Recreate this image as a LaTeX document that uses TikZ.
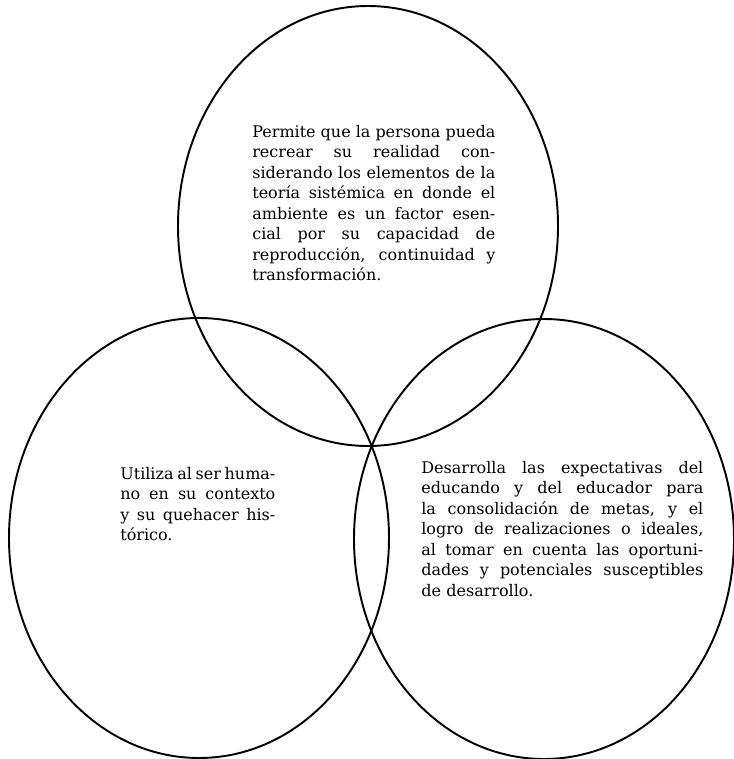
\documentclass[tikz,border=0pt]{standalone}
\usepackage{fontspec}
\setmainfont{DejaVu Serif}
\usepackage{tikz}
\usetikzlibrary{shapes.geometric}
\tikzset{
  venn_e/.style = {ellipse, draw=black, line width=1.1pt, inner sep=0pt,
    minimum width=7.6cm, minimum height=8.8cm},% elipse del diagrama
  venn_t/.style = {anchor=base west, inner sep=0pt,
    font=\fontsize{9.1}{11.7}\selectfont}% texto de cada elipse
}
\newcommand{\jl}[1]{\makebox[\hsize][s]{\spaceskip=0.3em plus 1fil minus 0.1em\relax #1}\\}

\begin{document}
\begin{tikzpicture}
    \useasboundingbox (0,0) rectangle (14.66,-15.18);
    \node [venn_e] (arriba) at (7.36,-4.52) {};
    \node [venn_e] (izq) at (3.98,-10.76) {};
    \node [venn_e] (der) at (10.88,-10.78) {};

    \node [venn_t, text width=4.86cm] (t_arriba) at (5.04,-2.74)
        {\jl{Permite que la persona pueda}\jl{recrear su realidad con-}%
         \jl{siderando los elementos de la}\jl{teoría sistémica en donde el}%
         \jl{ambiente es un factor esen-}\jl{cial por su capacidad de}%
         \jl{reproducción, continuidad y}transformación.};
    \node [venn_t, text width=3.1cm] (t_izq) at (2.40,-9.58)
        {\jl{Utiliza al ser huma-}\jl{no en su contexto}%
         \jl{y su quehacer his-}tórico.};
    \node [venn_t, text width=5.64cm] (t_der) at (8.42,-9.46)
        {\jl{Desarrolla las expectativas del}\jl{educando y del educador para}%
         \jl{la consolidación de metas, y el}\jl{logro de realizaciones o ideales,}%
         \jl{al tomar en cuenta las oportuni-}\jl{dades y potenciales susceptibles}%
         de desarrollo.};
\end{tikzpicture}
\end{document}
